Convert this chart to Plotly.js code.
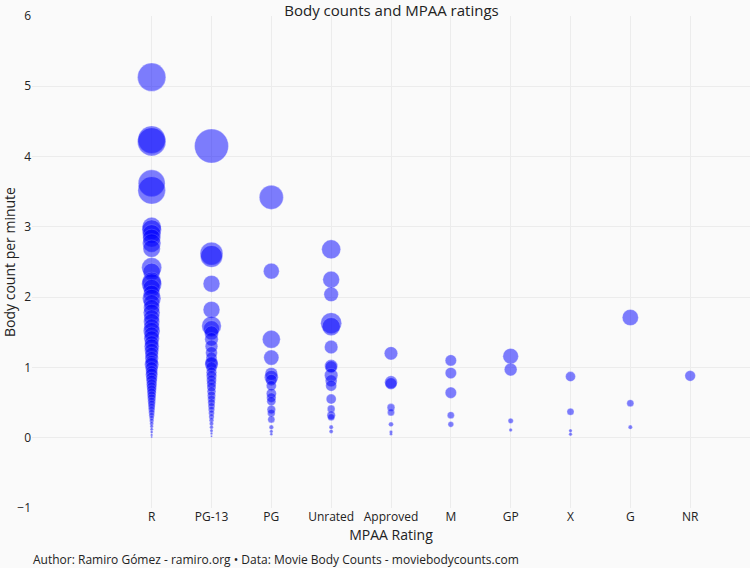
<!DOCTYPE html>
<html>
<head>
<meta charset="utf-8">
<script src="https://cdn.plot.ly/plotly-3.0.1.min.js"></script>
<style>html,body{margin:0;padding:0;background:#fafafa;}#chart{width:750px;height:568px;}</style>
</head>
<body>
<div id="chart"></div>
<script>
// MPAA rating categories (x-axis order)
var ratings = ["R", "PG-13", "PG", "Unrated", "Approved", "M", "GP", "X", "G", "NR"];

// Body count per minute (y) and total body count (bubble size) per rating
var rateR = [5.13, 4.24, 4.21, 3.62, 3.52, 3.00, 2.96, 2.90, 2.84, 2.77, 2.69, 2.42, 2.36, 2.22, 2.19, 2.13, 2.05, 1.98, 1.92, 1.85, 1.78, 1.71, 1.65, 1.58, 1.52, 1.47, 1.41, 1.35, 1.30, 1.24, 1.19, 1.13, 1.08, 1.04, 0.99, 0.94, 0.90, 0.85, 0.81, 0.76, 0.72, 0.68, 0.64, 0.60, 0.56, 0.52, 0.48, 0.44, 0.40, 0.36, 0.32, 0.28, 0.24, 0.20, 0.16, 0.12, 0.08, 0.04, 0.01];
var countR = [400, 380, 400, 360, 380, 180, 190, 170, 160, 170, 150, 200, 150, 180, 200, 150, 140, 170, 130, 130, 140, 120, 130, 120, 140, 110, 120, 100, 110, 100, 90, 90, 80, 100, 80, 70, 75, 65, 60, 55, 50, 45, 42, 38, 34, 30, 27, 24, 21, 18, 15, 12, 10, 8, 6, 5, 4, 3, 2];

var ratePG13 = [4.15, 2.62, 2.58, 2.19, 1.82, 1.59, 1.55, 1.49, 1.40, 1.30, 1.21, 1.14, 1.07, 1.05, 1.00, 0.93, 0.88, 0.82, 0.77, 0.72, 0.66, 0.60, 0.55, 0.50, 0.45, 0.40, 0.35, 0.30, 0.25, 0.20, 0.15, 0.10, 0.06, 0.02];
var countPG13 = [576, 260, 240, 140, 140, 190, 130, 100, 90, 80, 70, 60, 80, 90, 60, 55, 55, 50, 45, 42, 38, 34, 30, 27, 24, 20, 17, 14, 11, 9, 7, 5, 3, 2];

var ratePG = [3.42, 2.37, 1.40, 1.14, 0.91, 0.86, 0.82, 0.74, 0.63, 0.57, 0.52, 0.40, 0.35, 0.26, 0.15, 0.09, 0.05];
var countPG = [290, 125, 160, 115, 80, 95, 65, 50, 50, 45, 40, 36, 30, 25, 10, 6, 4];

var rateUnrated = [2.68, 2.25, 2.04, 1.63, 1.58, 1.29, 1.02, 1.01, 0.89, 0.81, 0.74, 0.55, 0.41, 0.32, 0.29, 0.15, 0.09];
var countUnrated = [180, 140, 105, 220, 165, 90, 85, 70, 90, 70, 60, 50, 30, 35, 25, 9, 8];

var rateApproved = [1.20, 0.79, 0.77, 0.43, 0.36, 0.19, 0.08, 0.05];
var countApproved = [90, 80, 70, 30, 25, 12, 6, 4];

var rateM = [1.10, 0.92, 0.64, 0.32, 0.19];
var countM = [64, 64, 64, 25, 16];

var rateGP = [1.16, 0.97, 0.24, 0.11];
var countGP = [121, 81, 14, 6];

var rateX = [0.87, 0.37, 0.10, 0.05];
var countX = [49, 25, 6, 6];

var rateG = [1.71, 0.49, 0.15];
var countG = [130, 25, 9];

var rateNR = [0.88];
var countNR = [56];

var rateLists = [rateR, ratePG13, ratePG, rateUnrated, rateApproved, rateM, rateGP, rateX, rateG, rateNR];
var countLists = [countR, countPG13, countPG, countUnrated, countApproved, countM, countGP, countX, countG, countNR];

var xs = [], ys = [], ss = [];
for (var i = 0; i < ratings.length; i++) {
  for (var j = 0; j < rateLists[i].length; j++) {
    xs.push(ratings[i]);
    ys.push(rateLists[i][j]);
    ss.push(countLists[i][j]);
  }
}

var font = "'Open Sans', 'DejaVu Sans', sans-serif";

var trace = {
  type: 'scatter',
  mode: 'markers',
  x: xs,
  y: ys,
  hoverinfo: 'none',
  marker: {
    size: ss,
    sizemode: 'area',
    sizeref: 1,
    color: 'rgb(0,0,255)',
    opacity: 0.5,
    line: {color: 'rgba(255,255,255,0.6)', width: 0.5}
  }
};

var layout = {
  width: 750,
  height: 568,
  margin: {l: 32, r: 0, t: 16, b: 60},
  paper_bgcolor: '#fafafa',
  plot_bgcolor: '#fafafa',
  showlegend: false,
  font: {family: font, size: 12, color: '#222'},
  title: {
    text: 'Body counts and MPAA ratings',
    font: {family: font, size: 15, color: '#222'},
    xref: 'container', yref: 'container',
    x: 0.522, xanchor: 'center',
    y: 0.9815, yanchor: 'middle',
    pad: {t: 0, b: 0}
  },
  xaxis: {
    type: 'category',
    categoryorder: 'array',
    categoryarray: ratings,
    range: [-2, 10],
    showgrid: true,
    gridcolor: '#ececec',
    zeroline: false,
    showline: false,
    ticks: '',
    tickfont: {family: font, size: 12, color: '#222'},
    title: {text: 'MPAA Rating', font: {family: font, size: 14, color: '#222'}, standoff: 4}
  },
  yaxis: {
    range: [-1, 6],
    dtick: 1,
    tick0: 0,
    showgrid: true,
    gridcolor: '#ececec',
    zeroline: false,
    showline: false,
    ticks: '',
    tickfont: {family: font, size: 12, color: '#222'},
    title: {text: 'Body count per minute', font: {family: font, size: 14, color: '#222'}, standoff: 8}
  },
  annotations: [{
    text: 'Author: Ramiro Gómez - ramiro.org • Data: Movie Body Counts - moviebodycounts.com',
    xref: 'paper', yref: 'paper',
    x: -0.002, y: 0,
    xanchor: 'left', yanchor: 'middle',
    yshift: -51,
    showarrow: false,
    font: {family: font, size: 12, color: '#222'}
  }]
};

Plotly.newPlot('chart', [trace], layout, {displayModeBar: false, staticPlot: true});
</script>
</body>
</html>
